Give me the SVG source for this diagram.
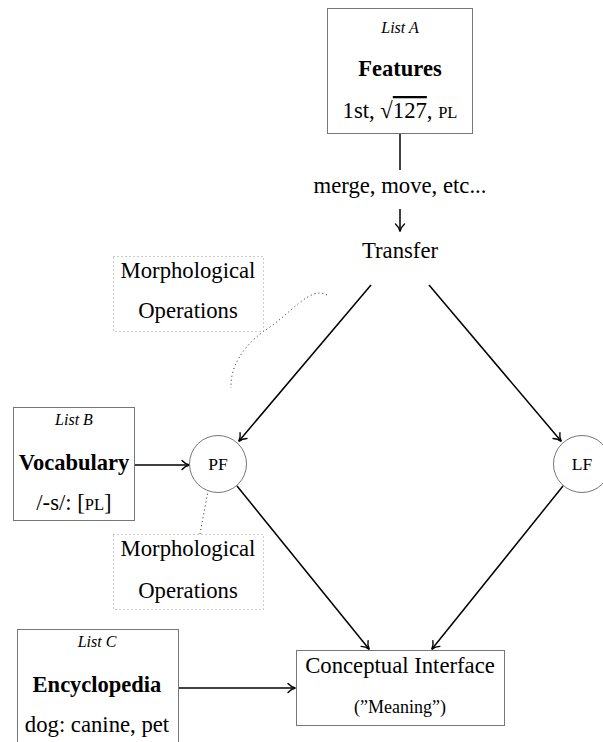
<svg xmlns="http://www.w3.org/2000/svg" width="603" height="742" viewBox="0 0 603 742">
<style>
.t{font-family:"Liberation Serif","Times New Roman",serif;fill:#000;text-anchor:middle}
.r{font-size:22.7px}
.s{font-size:16.5px}
.p{font-size:17.5px}
.m{font-size:18px}
.i{font-size:16px;font-style:italic}
.b{font-size:22.5px;font-weight:bold}
.ov{text-decoration:overline}
.box{fill:#fff;stroke:#777;stroke-width:1}
.dbox{fill:none;stroke:#999;stroke-width:1;stroke-dasharray:1 3}
.curve{fill:none;stroke:#222;stroke-width:1;stroke-dasharray:1 3}
.edge{stroke:#000;stroke-width:1.5;fill:none}
.arr{marker-end:url(#ah)}
</style>
<defs>
<marker id="ah" markerUnits="userSpaceOnUse" markerWidth="12" markerHeight="12" viewBox="0 0 12 12" refX="10" refY="6" orient="auto">
<path d="M3,1.5 Q6,5 10.5,6 Q6,7 3,10.5" fill="none" stroke="#000" stroke-width="1.4" stroke-linecap="round"/>
</marker>
</defs>
<rect width="603" height="742" fill="#fff"/>
<g id="connectors">
<path class="edge" d="M400 133 L400 170"/>
<path class="edge arr" d="M400 209 L400 231"/>
<path class="edge arr" d="M371 285 L239 441"/>
<path class="edge arr" d="M429 285 L561 441"/>
<path class="edge arr" d="M135 465 L189 465"/>
<path class="edge arr" d="M237 486 L369 649"/>
<path class="edge arr" d="M563 486 L432 649"/>
<path class="edge arr" d="M178 688 L295 688"/>
<path class="curve" d="M327 295 C310 285 290 315 264 331 C245 345 230 365 231 388"/>
<path class="curve" d="M200 534 L208 491"/>
</g>
<g id="listA">
<rect class="box" x="327.5" y="8.5" width="145" height="125"/>
<text class="t i" x="400" y="33">List A</text>
<text class="t b" x="400" y="76">Features</text>
<text class="t r" x="400" y="118">1st, √<tspan class="ov">127</tspan>, <tspan class="s">PL</tspan></text>
</g>
<g id="merge">
<text class="t r" x="400" y="193">merge, move, etc...</text>
</g>
<g id="transfer">
<text class="t r" x="400" y="258">Transfer</text>
</g>
<g id="morph1">
<rect class="dbox" x="113.5" y="256.5" width="150" height="75"/>
<text class="t r" x="188" y="278">Morphological</text>
<text class="t r" x="188" y="318">Operations</text>
</g>
<g id="listB">
<rect class="box" x="13.5" y="407.5" width="121" height="113"/>
<text class="t i" x="74" y="425">List B</text>
<text class="t b" x="74" y="470">Vocabulary</text>
<text class="t r" x="74" y="510">/-s/: [<tspan class="s">PL</tspan>]</text>
</g>
<g id="PF">
<circle cx="218" cy="464" r="28.5" fill="#fff" stroke="#777" stroke-width="1"/>
<text class="t p" x="218" y="470">PF</text>
</g>
<g id="LF">
<circle cx="582" cy="464" r="28.5" fill="#fff" stroke="#777" stroke-width="1"/>
<text class="t p" x="582" y="470">LF</text>
</g>
<g id="morph2">
<rect class="dbox" x="113.5" y="534.5" width="150" height="75"/>
<text class="t r" x="188" y="556">Morphological</text>
<text class="t r" x="188" y="598">Operations</text>
</g>
<g id="listC">
<rect class="box" x="17.5" y="629.5" width="161" height="120"/>
<text class="t i" x="97" y="647">List C</text>
<text class="t b" x="97" y="692">Encyclopedia</text>
<text class="t r" x="97" y="732">dog: canine, pet</text>
</g>
<g id="CI">
<rect class="box" x="296.5" y="650.5" width="208" height="75"/>
<text class="t r" x="400" y="673">Conceptual Interface</text>
<text class="t m" x="400" y="713">(”Meaning”)</text>
</g>
</svg>
